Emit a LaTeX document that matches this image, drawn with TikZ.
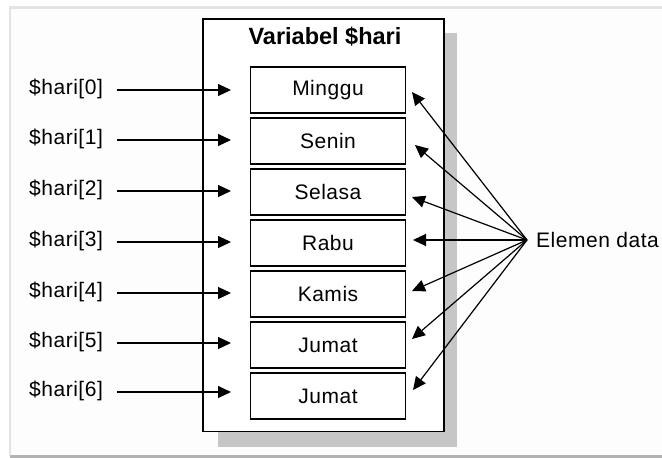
\documentclass[tikz,border=0pt]{standalone}
\usepackage{fontspec}
\setmainfont{Liberation Sans}
\usetikzlibrary{arrows.meta}
\begin{document}
\begin{tikzpicture}[x=1pt,y=-1pt,
  lbl/.style={font=\fontsize{21}{23}\selectfont\addfontfeature{LetterSpace=2.5}, inner sep=0pt},
  cell/.style={draw, line width=1.3pt, minimum width=155pt, minimum height=46pt, inner sep=0pt,
     font=\fontsize{21}{23}\selectfont\addfontfeature{LetterSpace=2.5}, fill=white},
  arr/.style={line width=1.2pt, -{Triangle[length=13pt,width=12pt]}},
  frameline/.style={line width=2.5pt}]
\useasboundingbox (0,0) rectangle (662,458);
\fill[white] (0,0) rectangle (662,458);
% panel frame
\fill[gray!1.5] (11,8) rectangle (662,455);
\draw[frameline, gray!22] (9,7.5) -- (662,7.5);
\draw[frameline, gray!22] (10,7.5) -- (10,455);
\draw[line width=3pt, gray!60] (10,456.5) -- (662,456.5);
% shadow and outer box
\fill[gray!45] (218,33) rectangle (457,447);
\draw[line width=1.5pt, fill=white] (203,19) rectangle (444,431.5);
\node[font=\fontsize{23.5}{25}\selectfont\bfseries, inner sep=0pt] (title) at (325,37) {Variabel \$hari};
% cells
\node[cell] (c0) at (328,90) {Minggu};
\node[cell] (c1) at (328,141) {Senin};
\node[cell] (c2) at (328,192) {Selasa};
\node[cell] (c3) at (328,243) {Rabu};
\node[cell] (c4) at (328,294) {Kamis};
\node[cell] (c5) at (328,345) {Jumat};
\node[cell] (c6) at (328,396) {Jumat};
% left labels
\foreach \i/\y in {0/90,1/140,2/191,3/242,4/293,5/343,6/392}{
  \node[lbl, anchor=west] (h\i) at (29,\y-1) {\$hari[\i]};
  \coordinate (s\i) at (117,\y);
  \coordinate (t\i) at (231,\y);
  \draw[arr] (s\i) -- (t\i);
}
% right label
\node[lbl, anchor=west] (el) at (536,240) {Elemen data};
\coordinate (fan) at (527,240);
\foreach \i/\x/\y in {0/412/92,1/415/145,2/412/197,3/413/240,4/412/291,5/412/339,6/413/390}{
  \coordinate (e\i) at (\x,\y);
  \draw[arr] (fan) -- (e\i);
}
\end{tikzpicture}
\end{document}
